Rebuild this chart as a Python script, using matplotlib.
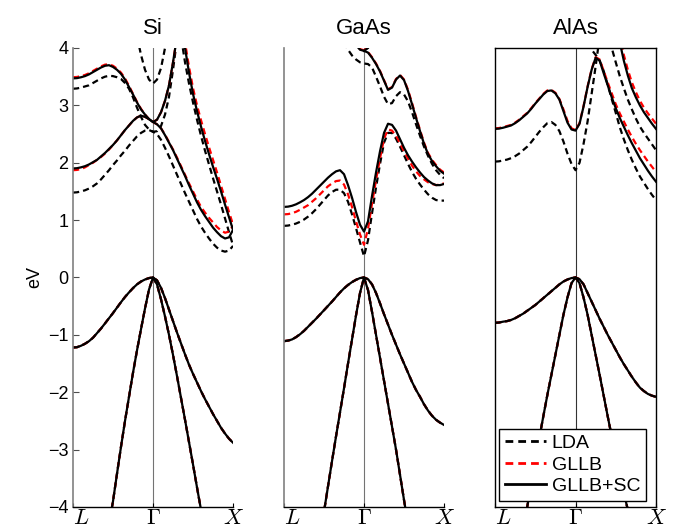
import matplotlib
matplotlib.use("Agg")
import matplotlib.pyplot as plt
import numpy as np
from matplotlib.lines import Line2D

nan = np.nan

# k-path position: 0 = L, 1 = Gamma, 2 = X
K_PATH = [0.0, 0.05, 0.1, 0.15, 0.2, 0.25, 0.3, 0.35, 0.4, 0.45, 0.5,
          0.55, 0.6, 0.65, 0.7, 0.75, 0.8, 0.85, 0.9, 0.95, 1.0,
          1.05, 1.1, 1.15, 1.2, 1.25, 1.3, 1.35, 1.4, 1.45, 1.5,
          1.55, 1.6, 1.65, 1.7, 1.75, 1.8, 1.85, 1.9, 1.95, 2.0]

MATERIALS = ["Si", "GaAs", "AlAs"]
METHODS = ["LDA", "GLLB", "GLLB+SC"]

# ---- Si ----  (first row: L..Gamma, second row: Gamma..X)
SI_HEAVY = [-1.22, -1.215, -1.19, -1.155, -1.11, -1.05, -0.97, -0.89, -0.80, -0.71, -0.62, -0.525, -0.43, -0.34, -0.26, -0.185, -0.12, -0.07, -0.035, -0.01, 0.0,
            -0.05, -0.18, -0.36, -0.56, -0.76, -0.96, -1.15, -1.34, -1.52, -1.68, -1.83, -1.98, -2.12, -2.25, -2.38, -2.5, -2.62, -2.72, -2.81, -2.88]
SI_STEEP = [nan, nan, nan, nan, nan, nan, nan, nan, -4.7, -4.3, -3.9, -3.42, -2.95, -2.5, -2.08, -1.66, -1.27, -0.9, -0.54, -0.21, 0.0,
            -0.12, -0.38, -0.68, -1.0, -1.35, -1.72, -2.1, -2.48, -2.87, -3.26, -3.66, -4.05, -4.43, -4.8, nan, nan, nan, nan, nan, nan]

SI_LDA_A = [1.48, 1.485, 1.50, 1.52, 1.55, 1.59, 1.64, 1.71, 1.79, 1.87, 1.96, 2.04, 2.13, 2.21, 2.30, 2.38, 2.46, 2.52, 2.56, 2.57, 2.54,
            2.50, 2.40, 2.26, 2.11, 1.95, 1.79, 1.63, 1.47, 1.32, 1.17, 1.02, 0.89, 0.78, 0.68, 0.59, 0.52, 0.47, 0.45, 0.47, 0.55]
SI_LDA_B = [3.29, 3.295, 3.31, 3.33, 3.35, 3.39, 3.43, 3.47, 3.50, 3.515, 3.51, 3.49, 3.46, 3.39, 3.29, 3.14, 2.96, 2.80, 2.66, 2.58, 2.54,
            2.55, 2.64, 2.84, 3.15, 3.62, 4.15] + [nan] * 14
SI_LDA_D = [nan] * 21 + [nan, nan, nan, nan, nan, 4.7, 4.2, 3.75, 3.38, 3.05, 2.75, 2.47, 2.21, 1.97, 1.73, 1.5, 1.27, 1.03, 0.79, 0.56]
SI_LDA_E = [nan] * 16 + [4.2, 3.88, 3.62, 3.45, 3.38,
                         3.45, 3.65, 4.0, 4.4] + [nan] * 16

SI_GLLB_A = [1.87, 1.875, 1.89, 1.92, 1.96, 2.0, 2.05, 2.10, 2.16, 2.23, 2.31, 2.39, 2.48, 2.57, 2.65, 2.73, 2.79, 2.82, 2.80, 2.76, 2.71,
             2.67, 2.60, 2.49, 2.36, 2.23, 2.09, 1.94, 1.79, 1.64, 1.50, 1.36, 1.23, 1.13, 1.04, 0.96, 0.88, 0.82, 0.78, 0.80, 0.90]
SI_GLLB_B = [3.49, 3.495, 3.51, 3.53, 3.56, 3.60, 3.64, 3.68, 3.71, 3.715, 3.69, 3.64, 3.57, 3.47, 3.34, 3.20, 3.06, 2.94, 2.84, 2.76, 2.71,
             2.75, 2.88, 3.08, 3.35, 3.75, 4.2] + [nan] * 14
SI_GLLB_D = [nan] * 21 + [nan, nan, nan, nan, nan, nan, 4.7, 4.1, 3.67, 3.3, 3.0, 2.74, 2.5, 2.27, 2.05, 1.83, 1.6, 1.37, 1.14, 0.92]
SI_GLLB_E = [nan] * 19 + [4.12, 4.0, 4.12] + [nan] * 19

SI_SC_A = [1.90, 1.905, 1.92, 1.94, 1.97, 2.01, 2.05, 2.11, 2.17, 2.24, 2.31, 2.39, 2.48, 2.57, 2.65, 2.73, 2.79, 2.82, 2.80, 2.76, 2.71,
           2.67, 2.60, 2.48, 2.35, 2.22, 2.07, 1.92, 1.77, 1.61, 1.46, 1.31, 1.18, 1.07, 0.97, 0.87, 0.79, 0.72, 0.68, 0.70, 0.83]
SI_SC_B = [3.47, 3.475, 3.49, 3.51, 3.54, 3.58, 3.62, 3.66, 3.69, 3.70, 3.67, 3.62, 3.55, 3.45, 3.32, 3.19, 3.05, 2.93, 2.84, 2.76, 2.71,
           2.75, 2.88, 3.08, 3.35, 3.75, 4.2] + [nan] * 14
SI_SC_D = [nan] * 21 + [nan, nan, nan, nan, nan, nan, 4.6, 4.0, 3.57, 3.2, 2.9, 2.63, 2.38, 2.15, 1.93, 1.72, 1.5, 1.27, 1.05, 0.83]

# ---- GaAs ----
GA_HEAVY = [-1.11, -1.10, -1.08, -1.04, -0.99, -0.93, -0.86, -0.79, -0.72, -0.645, -0.57, -0.495, -0.42, -0.34, -0.26, -0.19, -0.13, -0.08, -0.04, -0.01, 0.0,
            -0.03, -0.12, -0.27, -0.45, -0.64, -0.82, -1.0, -1.17, -1.34, -1.50, -1.66, -1.82, -1.96, -2.08, -2.21, -2.32, -2.41, -2.48, -2.53, -2.57]
GA_STEEP = [nan, nan, nan, nan, nan, nan, nan, nan, -4.9, -4.5, -4.08, -3.64, -3.2, -2.77, -2.35, -1.93, -1.5, -1.08, -0.66, -0.27, 0.0,
            -0.22, -0.6, -1.0, -1.4, -1.8, -2.2, -2.6, -3.0, -3.44, -3.88, -4.3, -4.7, nan, nan, nan, nan, nan, nan, nan, nan]

GA_LDA_A = [0.90, 0.905, 0.92, 0.94, 0.97, 1.01, 1.06, 1.12, 1.19, 1.27, 1.35, 1.43, 1.49, 1.53, 1.53, 1.47, 1.32, 1.10, 0.86, 0.61, 0.37,
            0.65, 1.12, 1.57, 1.98, 2.35, 2.52, 2.52, 2.42, 2.28, 2.13, 1.98, 1.84, 1.72, 1.62, 1.53, 1.45, 1.39, 1.35, 1.34, 1.34]
GA_LDA_B = [nan] * 15 + [4.1, 3.97, 3.87, 3.8, 3.75, 3.73,
                         3.72, 3.66, 3.50, 3.33, 3.15, 3.02, 3.04, 3.16, 3.23, 3.19, 3.07, 2.88, 2.67, 2.47, 2.28, 2.12, 1.98, 1.87, 1.79, 1.73]

GA_GLLB_A = [1.10, 1.105, 1.12, 1.145, 1.18, 1.22, 1.26, 1.32, 1.38, 1.45, 1.52, 1.59, 1.64, 1.68, 1.69, 1.62, 1.45, 1.23, 0.98, 0.75, 0.57,
             0.85, 1.29, 1.70, 2.08, 2.42, 2.58, 2.56, 2.47, 2.34, 2.20, 2.07, 1.95, 1.85, 1.77, 1.71, 1.66, 1.63, 1.61, 1.62, 1.64]
GA_GLLB_B = [nan] * 17 + [4.32, 4.07, 3.98, 3.96,
                          3.93, 3.84, 3.73, 3.60, 3.44, 3.28, 3.32, 3.46, 3.53, 3.45, 3.27, 3.04, 2.80, 2.57, 2.35, 2.17, 2.05, 1.96, 1.88, 1.83]
GA_GLLB_E = [nan] * 20 + [3.96, 4.01, 4.13] + [nan] * 18

GA_SC_A = [1.23, 1.235, 1.25, 1.275, 1.31, 1.35, 1.40, 1.46, 1.53, 1.60, 1.67, 1.74, 1.80, 1.85, 1.87, 1.80, 1.61, 1.39, 1.14, 0.92, 0.80,
           0.98, 1.42, 1.83, 2.2, 2.52, 2.68, 2.66, 2.56, 2.41, 2.26, 2.13, 2.02, 1.92, 1.83, 1.75, 1.69, 1.64, 1.61, 1.61, 1.63]
GA_SC_B = [nan] * 17 + [4.3, 4.05, 3.97, 3.95,
                        3.92, 3.83, 3.72, 3.59, 3.43, 3.27, 3.31, 3.45, 3.52, 3.44, 3.25, 3.02, 2.78, 2.55, 2.33, 2.15, 2.03, 1.94, 1.86, 1.81]
GA_SC_E = [nan] * 20 + [3.95, 4.0, 4.12] + [nan] * 18

# ---- AlAs ----
AL_HEAVY = [-0.79, -0.785, -0.77, -0.76, -0.74, -0.71, -0.67, -0.63, -0.58, -0.53, -0.48, -0.42, -0.36, -0.30, -0.24, -0.18, -0.12, -0.07, -0.035, -0.01, 0.0,
            -0.03, -0.12, -0.27, -0.42, -0.57, -0.72, -0.86, -1.0, -1.13, -1.26, -1.39, -1.51, -1.62, -1.73, -1.83, -1.92, -1.98, -2.03, -2.06, -2.08]
AL_STEEP = [nan, nan, nan, nan, nan, nan, -4.8, -4.4, -4.0, -3.6, -3.2, -2.8, -2.42, -2.05, -1.7, -1.35, -1.0, -0.65, -0.35, -0.1, 0.0,
            -0.1, -0.35, -0.65, -1.0, -1.35, -1.7, -2.06, -2.42, -2.77, -3.1, -3.43, -3.75, -4.05, -4.35, nan, nan, nan, nan, nan, nan]

AL_LDA_A = [2.02, 2.025, 2.04, 2.055, 2.08, 2.115, 2.16, 2.22, 2.28, 2.36, 2.45, 2.54, 2.62, 2.69, 2.71, 2.66, 2.55, 2.37, 2.16, 1.98, 1.87,
            2.0, 2.33, 2.72, 3.2, 3.68, 4.2] + [nan] * 14
AL_LDA_C = [nan] * 21 + [nan, nan, nan, nan, nan, nan, nan, 4.3, 4.0, 3.75, 3.51, 3.3, 3.1, 2.93, 2.77, 2.63, 2.52, 2.42, 2.32, 2.22]
AL_LDA_D = [nan] * 21 + [nan, 4.25, 4.05, 3.97, 3.88, 3.78, 3.6, 3.36, 3.11, 2.87, 2.62, 2.41, 2.22, 2.05, 1.90, 1.76, 1.65, 1.54, 1.44, 1.35]

AL_GLLB_A = [2.60, 2.605, 2.62, 2.64, 2.66, 2.70, 2.75, 2.81, 2.87, 2.95, 3.04, 3.12, 3.20, 3.26, 3.27, 3.22, 3.11, 2.93, 2.73, 2.60, 2.57,
             2.69, 2.99, 3.33, 3.63, 3.84, 3.80, 3.60, 3.40, 3.21, 3.02, 2.86, 2.72, 2.58, 2.45, 2.33, 2.22, 2.12, 2.02, 1.93, 1.84]
AL_GLLB_C = [nan] * 21 + [nan] * 9 + [4.6, 4.2, 3.88, 3.62, 3.4, 3.23, 3.08, 2.96, 2.86, 2.77, 2.68]

AL_SC_A = [2.59, 2.595, 2.61, 2.63, 2.65, 2.69, 2.74, 2.80, 2.86, 2.94, 3.03, 3.11, 3.19, 3.25, 3.26, 3.21, 3.10, 2.90, 2.70, 2.58, 2.56,
           2.68, 2.98, 3.32, 3.62, 3.83, 3.78, 3.56, 3.35, 3.14, 2.95, 2.78, 2.63, 2.48, 2.34, 2.21, 2.08, 1.97, 1.86, 1.76, 1.67]
AL_SC_C = [nan] * 21 + [nan] * 9 + [4.5, 4.1, 3.78, 3.52, 3.3, 3.14, 3.0, 2.88, 2.78, 2.68, 2.59]

VALENCE = {
    "Si": [SI_HEAVY, SI_STEEP],
    "GaAs": [GA_HEAVY, GA_STEEP],
    "AlAs": [AL_HEAVY, AL_STEEP],
}
CONDUCTION = {
    "Si": {"LDA": [SI_LDA_A, SI_LDA_B, SI_LDA_D, SI_LDA_E],
           "GLLB": [SI_GLLB_A, SI_GLLB_B, SI_GLLB_D, SI_GLLB_E],
           "GLLB+SC": [SI_SC_A, SI_SC_B, SI_SC_D]},
    "GaAs": {"LDA": [GA_LDA_A, GA_LDA_B],
             "GLLB": [GA_GLLB_A, GA_GLLB_B, GA_GLLB_E],
             "GLLB+SC": [GA_SC_A, GA_SC_B, GA_SC_E]},
    "AlAs": {"LDA": [AL_LDA_A, AL_LDA_C, AL_LDA_D],
             "GLLB": [AL_GLLB_A, AL_GLLB_C],
             "GLLB+SC": [AL_SC_A, AL_SC_C]},
}

DASH = (0, (2.8, 1.8))
STYLE = {
    "LDA": dict(color="black", linestyle=DASH),
    "GLLB": dict(color="red", linestyle=DASH),
    "GLLB+SC": dict(color="black", linestyle="-"),
}
LW = 1.6

plt.rcParams.update({
    "font.family": ["Liberation Sans", "DejaVu Sans"],
    "mathtext.fontset": "cm",
})

fig = plt.figure(figsize=(6.88, 5.28), dpi=100)
lefts = [0.1061, 0.4128, 0.7195]
widths = [0.2326, 0.2326, 0.234]

k = np.array(K_PATH)
for i, name in enumerate(MATERIALS):
    ax = fig.add_axes([lefts[i], 0.0398, widths[i], 0.8693])
    ax.axvline(1.0, color="0.45" if name != "AlAs" else "0.2", lw=0.8, zorder=1)

    for method in METHODS:
        for band in VALENCE[name] + CONDUCTION[name][method]:
            ax.plot(k, np.array(band, dtype=float), lw=LW, zorder=2,
                    solid_joinstyle="round", dash_joinstyle="round", **STYLE[method])

    ax.set_xlim(0, 2)
    ax.set_ylim(-4, 4)
    ax.set_xticks([0, 1, 2])
    labels = ax.set_xticklabels(["$L$", r"$\Gamma$", "$X$"], fontsize=16)
    labels[0].set_horizontalalignment("left")
    ax.tick_params(axis="x", direction="in", length=3, pad=1)
    ax.set_title(name, fontsize=16, pad=10)

    if name == "Si":
        ax.set_yticks(np.arange(-4, 5))
        ax.tick_params(axis="y", direction="in", length=4, labelsize=13, color="0.3")
        ax.set_ylabel("eV", fontsize=13, labelpad=3)
    else:
        ax.set_yticks([])

    if name == "AlAs":
        for sp in ax.spines.values():
            sp.set_color("black")
            sp.set_linewidth(1.0)
    else:
        ax.spines["top"].set_visible(False)
        ax.spines["right"].set_visible(False)
        ax.spines["left"].set_color("0.5")
        ax.spines["left"].set_linewidth(1.2)
        ax.spines["bottom"].set_linewidth(1.0)

    if name == "AlAs":
        handles = [Line2D([], [], lw=LW + 0.4, **STYLE[m]) for m in METHODS]
        leg = ax.legend(handles, METHODS, loc="lower left", bbox_to_anchor=(0.025, 0.013),
                        borderaxespad=0, fontsize=14, handlelength=2.1, handletextpad=0.3,
                        labelspacing=0.2, borderpad=0.3, fancybox=False, framealpha=1)
        leg.get_frame().set_edgecolor("black")
        leg.get_frame().set_linewidth(1.0)

fig.savefig("out.png", dpi=100)
